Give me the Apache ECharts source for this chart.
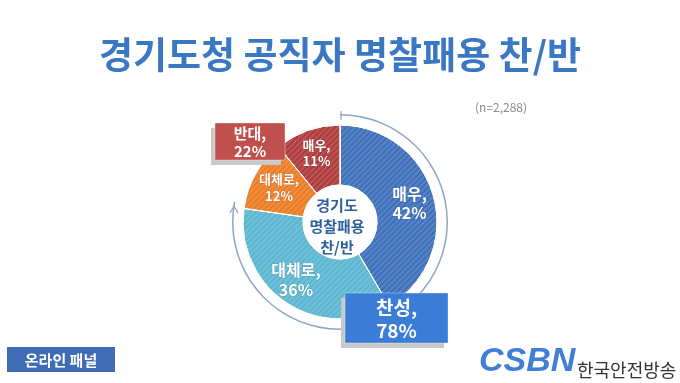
<!DOCTYPE html>
<html>
<head>
<meta charset="utf-8">
<script src="https://cdn.jsdelivr.net/npm/echarts@6/dist/echarts.min.js"></script>
<style>
  html, body { margin: 0; padding: 0; background: #ffffff; }
  #chart { width: 680px; height: 383px; }
</style>
</head>
<body>
<div id="chart"></div>
<script>
// ---- data ----
var categories = ["매우", "대체로", "대체로", "매우"];
var values = [42, 36, 12, 11];
var groupNames = ["찬성", "반대"];
var groupValues = [78, 22];
var titleText = "경기도청 공직자 명찰패용 찬/반";
var sampleText = "(n=2,288)";
var centerText = "경기도\n명찰패용\n찬/반";
var panelText = "온라인 패널";

var sliceColors = ["#3d6fba", "#5bb6d2", "#ec7c24", "#ae3a3c"];
var labelSizes = [16, 16, 13, 13];
var labelLineHeights = [19, 20, 17, 16];
var labelOffsets = [[2, 0], [-5, 0], [0, 0], [0, -3]];
var FONT = "'Noto Sans CJK KR', 'Noto Sans', sans-serif";

var decal = {
  symbol: 'rect',
  dashArrayX: [1, 0],
  dashArrayY: [1.5, 1.5],
  rotation: -Math.PI / 4,
  color: 'rgba(255,255,255,0.14)'
};

var pieData = values.map(function (v, i) {
  return {
    name: categories[i],
    value: v,
    itemStyle: { color: sliceColors[i], decal: decal },
    label: { fontSize: labelSizes[i], lineHeight: labelLineHeights[i], offset: labelOffsets[i] }
  };
});

var ringData = groupValues.map(function (v, i) {
  return {
    name: groupNames[i],
    value: v,
    itemStyle: { color: i === 0 ? '#8ea6c4' : 'rgba(0,0,0,0)' }
  };
});

function box(x, y, w, h, color, text, size) {
  return {
    type: 'group',
    z: 100,
    children: [
      { type: 'rect', z: 100, shape: { x: x - 4, y: y + 5, width: w, height: h }, style: { fill: '#c8c8c8' } },
      { type: 'rect', z: 101, shape: { x: x, y: y, width: w, height: h }, style: { fill: color, stroke: 'rgba(255,255,255,0.35)', lineWidth: 1 } },
      { type: 'text', z: 102, x: x + w / 2, y: y + h / 2 + 1, style: {
          text: text, fill: '#ffffff', font: 'bold ' + size + 'px ' + FONT,
          textAlign: 'center', textVerticalAlign: 'middle', lineHeight: size * 1.2 } }
    ]
  };
}

var chart = echarts.init(document.getElementById('chart'), null, { renderer: 'canvas' });
chart.setOption({
  backgroundColor: '#ffffff',
  animation: false,
  title: [
    { text: titleText, left: 'center', top: 31,
      textStyle: { fontSize: 37, fontWeight: 'bold', color: '#3b78c4', fontFamily: FONT } },
    { text: sampleText, left: 470, top: 96,
      textStyle: { fontSize: 12, fontWeight: 'normal', color: '#8a8a8a', fontFamily: FONT } }
  ],
  series: [
    {
      type: 'pie',
      center: [340, 222],
      radius: [37, 97],
      startAngle: 90,
      clockwise: true,
      silent: true,
      itemStyle: { borderColor: '#ffffff', borderWidth: 1 },
      label: {
        show: true, position: 'inside',
        formatter: function (p) { return p.name + ',\n' + p.value + '%'; },
        color: '#ffffff', fontWeight: 'bold', fontFamily: FONT, lineHeight: 20,
        textBorderColor: 'rgba(0,0,0,0.15)', textBorderWidth: 1
      },
      labelLine: { show: false },
      data: pieData
    },
    {
      type: 'pie',
      center: [340, 222],
      radius: [106.5, 108],
      startAngle: 90,
      clockwise: true,
      silent: true,
      label: { show: false },
      labelLine: { show: false },
      data: ringData
    }
  ],
  graphic: [
    { type: 'text', z: 100, x: 337, y: 226, style: {
        text: centerText, fill: '#2f5f9e', font: 'bold 15px ' + FONT,
        textAlign: 'center', textVerticalAlign: 'middle', lineHeight: 21 } },
    { type: 'line', z: 100, shape: { x1: 341, y1: 111, x2: 341, y2: 120 }, style: { stroke: '#8ea6c4', lineWidth: 1.2 } },
    { type: 'polyline', z: 100, shape: { points: [[230, 213], [234, 206], [238, 213]] }, style: { stroke: '#8ea6c4', lineWidth: 1.2, fill: null } },
    box(215, 123, 70, 37, '#c0504d', groupNames[1] + ',\n' + groupValues[1] + '%', 15),
    box(345, 293, 103, 50, '#3b7dd6', groupNames[0] + ',\n' + groupValues[0] + '%', 19),
    { type: 'rect', z: 100, shape: { x: 7, y: 347, width: 108, height: 25 }, style: { fill: '#3e6cb5' } },
    { type: 'text', z: 101, x: 61, y: 360, style: {
        text: panelText, fill: '#ffffff', font: 'bold 15px ' + FONT,
        textAlign: 'center', textVerticalAlign: 'middle' } },
    { type: 'text', z: 100, x: 479, y: 362, style: {
        text: 'CSBN', fill: '#3f80d6', font: 'italic bold 34px "Liberation Sans", sans-serif',
        textAlign: 'left', textVerticalAlign: 'middle' } },
    { type: 'text', z: 100, x: 577, y: 370, style: {
        text: '한국안전방송', fill: '#333333', font: '18px ' + FONT,
        textAlign: 'left', textVerticalAlign: 'middle' } }
  ]
});
</script>
</body>
</html>
